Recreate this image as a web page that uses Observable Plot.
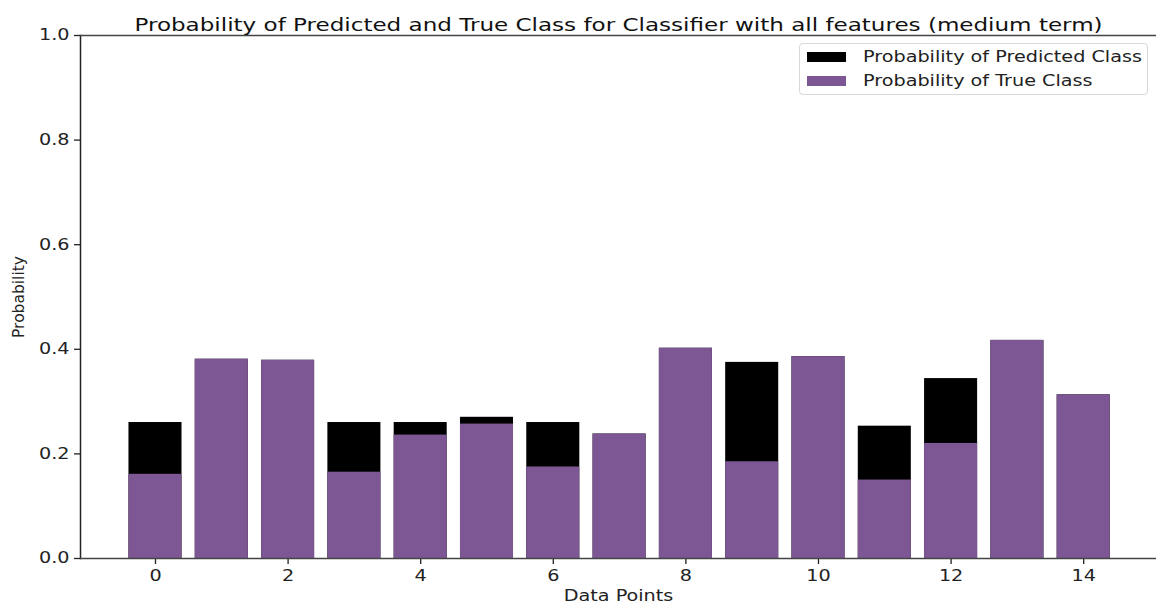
<!DOCTYPE html>
<html>
<head>
<meta charset="utf-8">
<script src="https://cdn.jsdelivr.net/npm/d3@7"></script>
<script src="https://cdn.jsdelivr.net/npm/@observablehq/plot@0.6"></script>
<style>
  html, body { margin: 0; padding: 0; background: #fff; }
  #chart { position: relative; width: 1156px; height: 609px; font-family: "DejaVu Sans", sans-serif; }
  #legend {
    position: absolute; left: 799px; top: 43px; width: 349px; height: 52px;
    border: 1px solid #d8d8d8; border-radius: 4px; background: #fff;
    font-size: 15px; color: #222; box-sizing: border-box;
  }
  #legend .row { position: absolute; left: 7px; display: flex; align-items: center; }
  #legend .sw { width: 39px; height: 10px; margin-right: 17px; flex: none; }
  #legend .lab { display: inline-block; transform: scaleX(1.28); transform-origin: left center; white-space: nowrap; }
</style>
</head>
<body>
<div id="chart"></div>
<script>
// Per-sample probabilities from the classifier (medium-term horizon)
const dataPoints = [0, 1, 2, 3, 4, 5, 6, 7, 8, 9, 10, 11, 12, 13, 14];
const predictedProb = [0.260, 0.381, 0.379, 0.260, 0.260, 0.270, 0.260, 0.238, 0.402, 0.375, 0.386, 0.253, 0.344, 0.417, 0.313];
const trueProb      = [0.161, 0.381, 0.379, 0.165, 0.236, 0.257, 0.175, 0.238, 0.402, 0.185, 0.386, 0.150, 0.220, 0.417, 0.313];
const xTicks = [0, 2, 4, 6, 8, 10, 12, 14];
const yTicks = [0, 0.2, 0.4, 0.6, 0.8, 1.0];

const seriesNames = ["Probability of Predicted Class", "Probability of True Class"];
const seriesColors = ["#000000", "#7d5794"];
const titleText = "Probability of Predicted and True Class for Classifier with all features (medium term)";

// horizontal widening applied to the horizontal text
const textStretch = 1.28;

const rows = dataPoints.map((p, i) => ({p, pred: predictedProb[i], tru: trueProb[i]}));
const halfBar = 0.4;

const plot = Plot.plot({
  width: 1156,
  height: 609,
  marginLeft: 80,
  marginRight: 0,
  marginTop: 35,
  marginBottom: 51,
  style: {fontFamily: "DejaVu Sans, sans-serif", fontSize: "15px", color: "#222", background: "#fff"},
  x: {domain: [-1.131, 15.098], label: null},
  y: {domain: [0, 1], label: null},
  marks: [
    // predicted class drawn first, true class overlaid on top
    Plot.rectY(rows, {x1: d => d.p - halfBar, x2: d => d.p + halfBar, y1: 0, y2: "pred", fill: seriesColors[0]}),
    Plot.rectY(rows, {x1: d => d.p - halfBar, x2: d => d.p + halfBar, y1: 0, y2: "tru", fill: seriesColors[1]}),
    Plot.axisX({ticks: xTicks, tickSize: 6, tickPadding: 6, stroke: "#222", strokeWidth: 1.3, fontSize: 15, label: null}),
    Plot.axisY({ticks: yTicks, tickFormat: d3.format(".1f"), tickSize: 6, tickPadding: 5, stroke: "#222", strokeWidth: 1.3, fontSize: 15, label: null}),
    Plot.frame({anchor: "left", stroke: "#222", strokeWidth: 1.5}),
    Plot.frame({anchor: "top", stroke: "#444", strokeWidth: 1.5}),
    Plot.frame({anchor: "bottom", stroke: "#444", strokeWidth: 1.5}),
    Plot.text([titleText], {frameAnchor: "top", dy: -17, fontSize: 18, fill: "#111"}),
    Plot.text(["Data Points"], {frameAnchor: "bottom", dy: 42, fontSize: 15, fill: "#222"}),
    Plot.text(["Probability"], {frameAnchor: "left", textAnchor: "middle", dx: -61, rotate: -90, fontSize: 15.5, fill: "#222", className: "ylab"})
  ]
});

const chart = document.getElementById("chart");
chart.appendChild(plot);

// widen horizontal labels (the rotated y label keeps its length)
d3.select(plot).selectAll("text").each(function () {
  if (this.closest(".ylab")) return;
  const w = this.getComputedTextLength();
  if (w > 0) {
    this.setAttribute("textLength", (w * textStretch).toFixed(2));
    this.setAttribute("lengthAdjust", "spacingAndGlyphs");
  }
});

// legend box in the upper right of the axes
const legend = document.createElement("div");
legend.id = "legend";
seriesNames.forEach((name, i) => {
  const row = document.createElement("div");
  row.className = "row";
  row.style.top = (i === 0 ? 3 : 27) + "px";
  row.style.height = "20px";
  const sw = document.createElement("span");
  sw.className = "sw";
  sw.style.background = seriesColors[i];
  const label = document.createElement("span");
  label.className = "lab";
  label.textContent = name;
  row.appendChild(sw);
  row.appendChild(label);
  legend.appendChild(row);
});
chart.appendChild(legend);
</script>
</body>
</html>
